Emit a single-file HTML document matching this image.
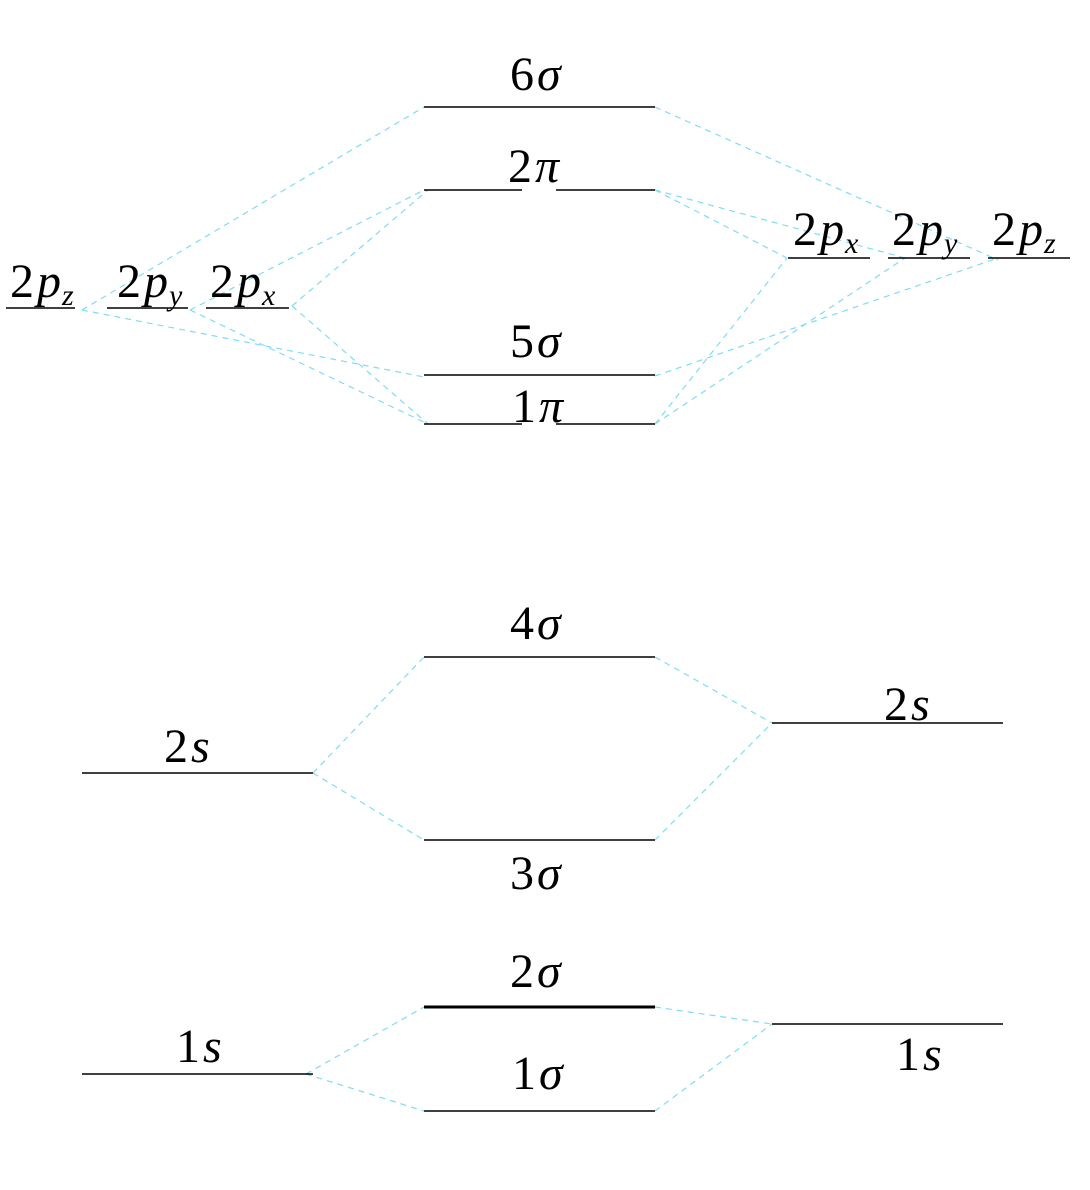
<!DOCTYPE html>
<html><head><meta charset="utf-8"><style>
html,body{margin:0;padding:0;background:#fff;}
#wrap{position:relative;width:1090px;height:1190px;overflow:hidden;}
svg{display:block;position:absolute;left:0;top:0;}
.lbl{position:absolute;font-family:"Liberation Serif","Times New Roman",Times,serif;font-size:48px;line-height:1;color:#000;white-space:nowrap;}
.lbl i{margin-left:3px;}
.lbl sub{font-size:30px;font-style:italic;vertical-align:-8px;line-height:0;margin-left:1px;}
</style></head><body>
<div id="wrap">
<svg id="d" width="1090" height="1190" viewBox="0 0 1090 1190"></svg>
</div>
<script>
const levelNames = ["6s","2pi-a","2pi-b","5s","1pi-a","1pi-b","4s","3s","2s","1s","L2pz","L2py","L2px","R2px","R2py","R2pz","L2s","R2s","L1s","R1s"];
const levelX1 = [424,424,556,424,424,556,424,424,424,424,6,107,206,788,888,988,82,772,82,772];
const levelX2 = [655,522,655,655,522,655,655,655,655,655,75,188,289,870,970,1070,313,1003,313,1003];
const levelY  = [107,190,190,375,424,424,657,840,1007,1111,308,308,308,258,258,258,773,723,1074,1024];
const levelW  = [1.6,1.6,1.6,1.6,1.6,1.6,1.6,1.6,3,1.6,1.6,1.6,1.6,1.6,1.6,1.6,1.6,1.6,1.6,1.6];
const links = [
 [82,310,424,107],[82,310,424,377],[190,310,424,190],[190,310,428,424],[292,306,428,190],[292,306,428,424],
 [655,107,998,260],[655,190,905,258],[655,190,787,258],[655,376,998,258],[655,424,787,258],[655,424,905,258],
 [313,773,424,657],[313,773,424,840],[655,657,772,723],[655,840,772,723],
 [306,1074,424,1007],[306,1074,424,1111],[655,1007,772,1024],[655,1111,772,1024]
];
const labelMain = ["6","2","5","1","4","3","2","1","2","2","2","2","2","2","2","2","1","1"];
const labelSym  = ["σ","π","σ","π","σ","σ","σ","σ","p","p","p","p","p","p","s","s","s","s"];
const labelSub  = ["","","","","","","","","z","y","x","x","y","z","","","",""];
const labelX    = [510,508,510,512,510,510,510,512,10,117,210,793,892,992,164,884,176,896];
const labelY    = [88,180,355,420,637,887,985,1087,295,295,295,243,243,243,760,718,1060,1068];
const NS="http://www.w3.org/2000/svg";
const svg=document.getElementById('d');
const wrap=document.getElementById('wrap');
links.forEach(function(l){
  const e=document.createElementNS(NS,'line');
  e.setAttribute('x1',l[0]);e.setAttribute('y1',l[1]);e.setAttribute('x2',l[2]);e.setAttribute('y2',l[3]);
  e.setAttribute('stroke','#7fdcf5');e.setAttribute('stroke-width','1.2');e.setAttribute('stroke-dasharray','6,5');
  
  
  svg.appendChild(e);
});
for(let i=0;i<levelNames.length;i++){
  const e=document.createElementNS(NS,'line');
  e.setAttribute('x1',levelX1[i]);e.setAttribute('x2',levelX2[i]);
  e.setAttribute('y1',levelY[i]);e.setAttribute('y2',levelY[i]);
  e.setAttribute('stroke','#000');e.setAttribute('stroke-width',levelW[i]);
  
  
  svg.appendChild(e);
}
for(let i=0;i<labelMain.length;i++){
  const d=document.createElement('div');
  d.className='lbl';
  
  
  d.style.left=labelX[i]+'px';
  d.style.top=(labelY[i]-37)+'px';
  let h=labelMain[i]+'<i>'+labelSym[i]+'</i>';
  if(labelSub[i]) h+='<sub>'+labelSub[i]+'</sub>';
  d.innerHTML=h;
  wrap.appendChild(d);
}
</script>
</body></html>
